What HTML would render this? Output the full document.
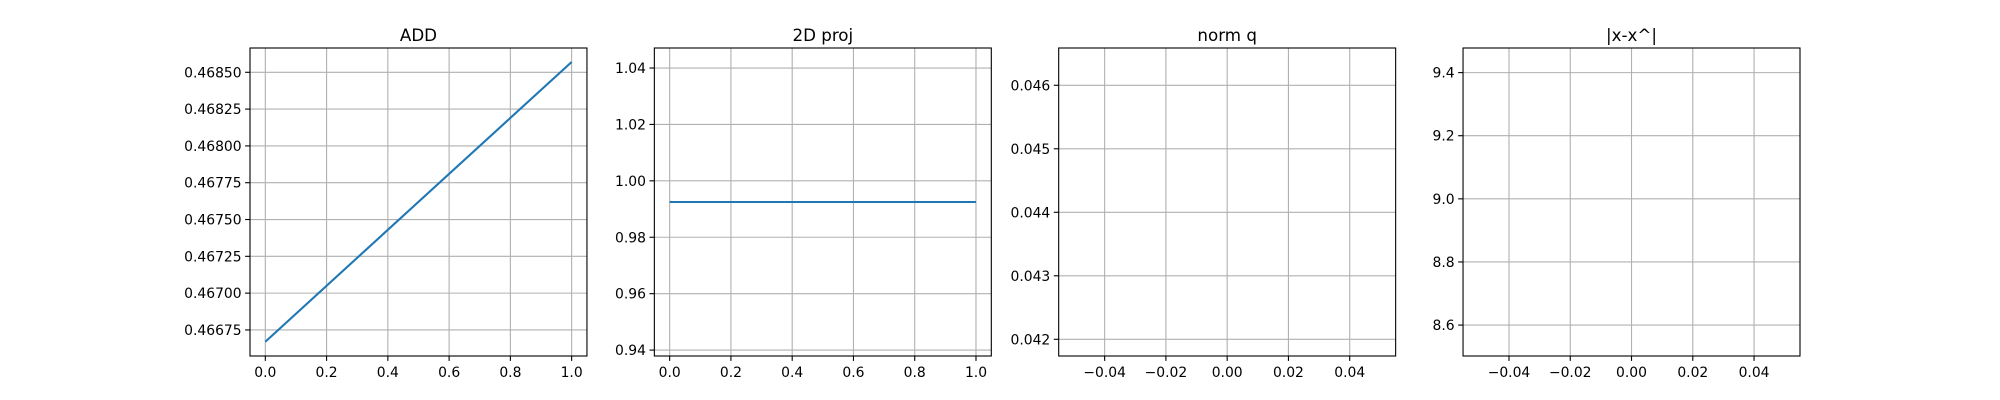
<!DOCTYPE html>
<html><head><meta charset="utf-8"><style>body{margin:0;background:#fff}svg{display:block}text{font-family:"DejaVu Sans","Liberation Sans",sans-serif;fill:#000}</style></head>
<body>
<svg id="fig" width="2000" height="400" xmlns="http://www.w3.org/2000/svg"></svg>
<script>
const titles = ["ADD", "2D proj", "norm q", "|x-x^|"];
const addX = [0, 1];
const addY = [0.46667, 0.46857];
const projX = [0, 1];
const projY = [0.9925, 0.9925];
const xlims = [[-0.05, 1.05], [-0.05, 1.05], [-0.055, 0.055], [-0.055, 0.055]];
const ylims = [[0.466573, 0.468665], [0.9379, 1.0471], [0.041737, 0.046587], [8.502, 9.478]];
const xticks = [[0,0.2,0.4,0.6,0.8,1.0],[0,0.2,0.4,0.6,0.8,1.0],[-0.04,-0.02,0,0.02,0.04],[-0.04,-0.02,0,0.02,0.04]];
const xtickLabels = [["0.0","0.2","0.4","0.6","0.8","1.0"],["0.0","0.2","0.4","0.6","0.8","1.0"],["\u22120.04","\u22120.02","0.00","0.02","0.04"],["\u22120.04","\u22120.02","0.00","0.02","0.04"]];
const yticks = [[0.46675,0.467,0.46725,0.4675,0.46775,0.468,0.46825,0.4685],[0.94,0.96,0.98,1.0,1.02,1.04],[0.042,0.043,0.044,0.045,0.046],[8.6,8.8,9.0,9.2,9.4]];
const ytickLabels = [["0.46675","0.46700","0.46725","0.46750","0.46775","0.46800","0.46825","0.46850"],["0.94","0.96","0.98","1.00","1.02","1.04"],["0.042","0.043","0.044","0.045","0.046"],["8.6","8.8","9.0","9.2","9.4"]];
const seriesX = [addX, projX, null, null];
const seriesY = [addY, projY, null, null];

const NS = "http://www.w3.org/2000/svg";
const svg = document.getElementById("fig");
function mk(tag, attrs, parent) {
  const e = document.createElementNS(NS, tag);
  for (const k in attrs) e.setAttribute(k, attrs[k]);
  parent.appendChild(e);
  return e;
}
const axW = 1550 / 4.6, axGap = axW * 0.2, axTop = 48, axBottom = 356;
for (let i = 0; i < 4; i++) {
  const left = 250 + i * (axW + axGap), right = left + axW;
  const g = mk("g", {}, svg);
  
  
  const xs = v => left + (v - xlims[i][0]) / (xlims[i][1] - xlims[i][0]) * axW;
  const ys = v => axBottom - (v - ylims[i][0]) / (ylims[i][1] - ylims[i][0]) * (axBottom - axTop);
  xticks[i].forEach((t, j) => {
    const x = xs(t);
    const gl = mk("line", {x1:x, x2:x, y1:axTop, y2:axBottom, stroke:"#b0b0b0", "stroke-width":1.1}, g);
    
    
    mk("line", {x1:x, x2:x, y1:axBottom, y2:axBottom+4.9, stroke:"#000", "stroke-width":1.1}, g);
    const tx = mk("text", {x:x, y:axBottom+21, "font-size":13.9, "text-anchor":"middle"}, g);
    
    
    tx.textContent = xtickLabels[i][j];
  });
  yticks[i].forEach((t, j) => {
    const y = ys(t);
    const gl = mk("line", {x1:left, x2:right, y1:y, y2:y, stroke:"#b0b0b0", "stroke-width":1.1}, g);
    
    
    mk("line", {x1:left-4.9, x2:left, y1:y, y2:y, stroke:"#000", "stroke-width":1.1}, g);
    const tx = mk("text", {x:left-8.4, y:y+5, "font-size":13.9, "text-anchor":"end"}, g);
    
    
    tx.textContent = ytickLabels[i][j];
  });
  if (seriesX[i]) {
    const pts = seriesX[i].map((v, k) => xs(v) + "," + ys(seriesY[i][k])).join(" ");
    const pl = mk("polyline", {points:pts, fill:"none", stroke:"#1f77b4", "stroke-width":2.1}, g);
    
    
  }
  const fr = mk("rect", {x:left, y:axTop, width:axW, height:axBottom-axTop, fill:"none", stroke:"#000", "stroke-width":1.1}, g);
  
  
  const tt = mk("text", {x:left+axW/2, y:axTop-7, "font-size":16.7, "text-anchor":"middle"}, g);
  
  
  tt.textContent = titles[i];
}
</script>
</body></html>
